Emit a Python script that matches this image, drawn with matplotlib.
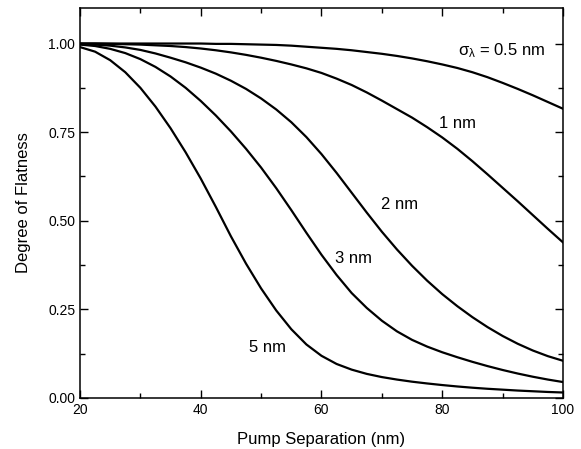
import numpy as np
import matplotlib
matplotlib.use('Agg')
import matplotlib.pyplot as plt
from matplotlib.ticker import MultipleLocator, FormatStrFormatter

plt.rcParams['font.family'] = ['Liberation Sans', 'DejaVu Sans']
plt.rcParams['mathtext.fontset'] = 'custom'
plt.rcParams['mathtext.rm'] = 'Liberation Sans'
plt.rcParams['mathtext.it'] = 'Liberation Sans'

# pump separation (nm)
sep = [20, 22.5, 25, 27.5, 30, 32.5, 35, 37.5, 40, 42.5, 45, 47.5, 50, 52.5, 55, 57.5,
       60, 62.5, 65, 67.5, 70, 72.5, 75, 77.5, 80, 82.5, 85, 87.5, 90, 92.5, 95, 97.5, 100]

# degree of flatness, one list per sigma_lambda
flat_05 = [1.000, 1.000, 1.000, 1.000, 1.000, 1.000, 1.000, 1.000, 1.000, 0.999, 0.999,
           0.998, 0.997, 0.996, 0.994, 0.991, 0.988, 0.985, 0.981, 0.976, 0.971, 0.965,
           0.958, 0.950, 0.941, 0.931, 0.919, 0.905, 0.889, 0.872, 0.854, 0.835, 0.816]
flat_1 = [1.000, 1.000, 0.999, 0.998, 0.997, 0.995, 0.993, 0.990, 0.986, 0.981, 0.975,
          0.968, 0.960, 0.951, 0.941, 0.930, 0.917, 0.901, 0.883, 0.862, 0.839, 0.815,
          0.791, 0.764, 0.735, 0.703, 0.668, 0.631, 0.593, 0.555, 0.516, 0.477, 0.439]
flat_2 = [0.999, 0.997, 0.994, 0.989, 0.982, 0.972, 0.960, 0.947, 0.932, 0.915, 0.895,
          0.872, 0.845, 0.814, 0.778, 0.736, 0.688, 0.635, 0.579, 0.523, 0.469, 0.419,
          0.373, 0.331, 0.293, 0.259, 0.228, 0.200, 0.175, 0.153, 0.134, 0.118, 0.105]
flat_3 = [0.997, 0.993, 0.985, 0.973, 0.956, 0.934, 0.907, 0.875, 0.838, 0.797, 0.752,
          0.703, 0.650, 0.592, 0.530, 0.466, 0.404, 0.347, 0.296, 0.254, 0.218, 0.188,
          0.164, 0.145, 0.129, 0.115, 0.102, 0.090, 0.079, 0.069, 0.060, 0.052, 0.045]
flat_5 = [0.990, 0.977, 0.953, 0.919, 0.875, 0.822, 0.761, 0.693, 0.619, 0.539, 0.456,
          0.379, 0.309, 0.247, 0.194, 0.151, 0.119, 0.096, 0.080, 0.068, 0.059, 0.052,
          0.046, 0.041, 0.0365, 0.0325, 0.029, 0.026, 0.0235, 0.021, 0.019, 0.017, 0.0155]

labels = ['$\\sigma_{\\lambda}$ = 0.5 nm', '1 nm', '2 nm', '3 nm', '5 nm']

fig = plt.figure(figsize=(5.81, 4.49), dpi=100)
ax = fig.add_axes([0.1377, 0.1136, 0.8313, 0.8684])

for ys in [flat_05, flat_1, flat_2, flat_3, flat_5]:
    ax.plot(sep, ys, color='black', lw=1.6)

ax.text(82.6, 0.966, labels[0], fontsize=12, ha='left', va='baseline')
ax.text(82.5, 0.761, labels[1], fontsize=12, ha='center', va='baseline')
ax.text(72.9, 0.532, labels[2], fontsize=12, ha='center', va='baseline')
ax.text(65.3, 0.380, labels[3], fontsize=12, ha='center', va='baseline')
ax.text(51.1, 0.130, labels[4], fontsize=12, ha='center', va='baseline')

ax.set_xlim(20, 100)
ax.set_ylim(0, 1.1)
ax.xaxis.set_major_locator(MultipleLocator(20))
ax.xaxis.set_minor_locator(MultipleLocator(10))
ax.yaxis.set_major_locator(MultipleLocator(0.25))
ax.yaxis.set_minor_locator(MultipleLocator(0.125))
ax.yaxis.set_major_formatter(FormatStrFormatter('%.2f'))
ax.tick_params(which='both', direction='in', top=True, right=True, labelsize=10, width=1)
ax.tick_params(which='major', length=6)
ax.tick_params(which='minor', length=3.5)
for s in ax.spines.values():
    s.set_linewidth(1.1)

ax.set_xlabel('Pump Separation (nm)', fontsize=12, labelpad=11)
ax.set_ylabel('Degree of Flatness', fontsize=12, labelpad=12)

plt.savefig('out.png', dpi=100)
